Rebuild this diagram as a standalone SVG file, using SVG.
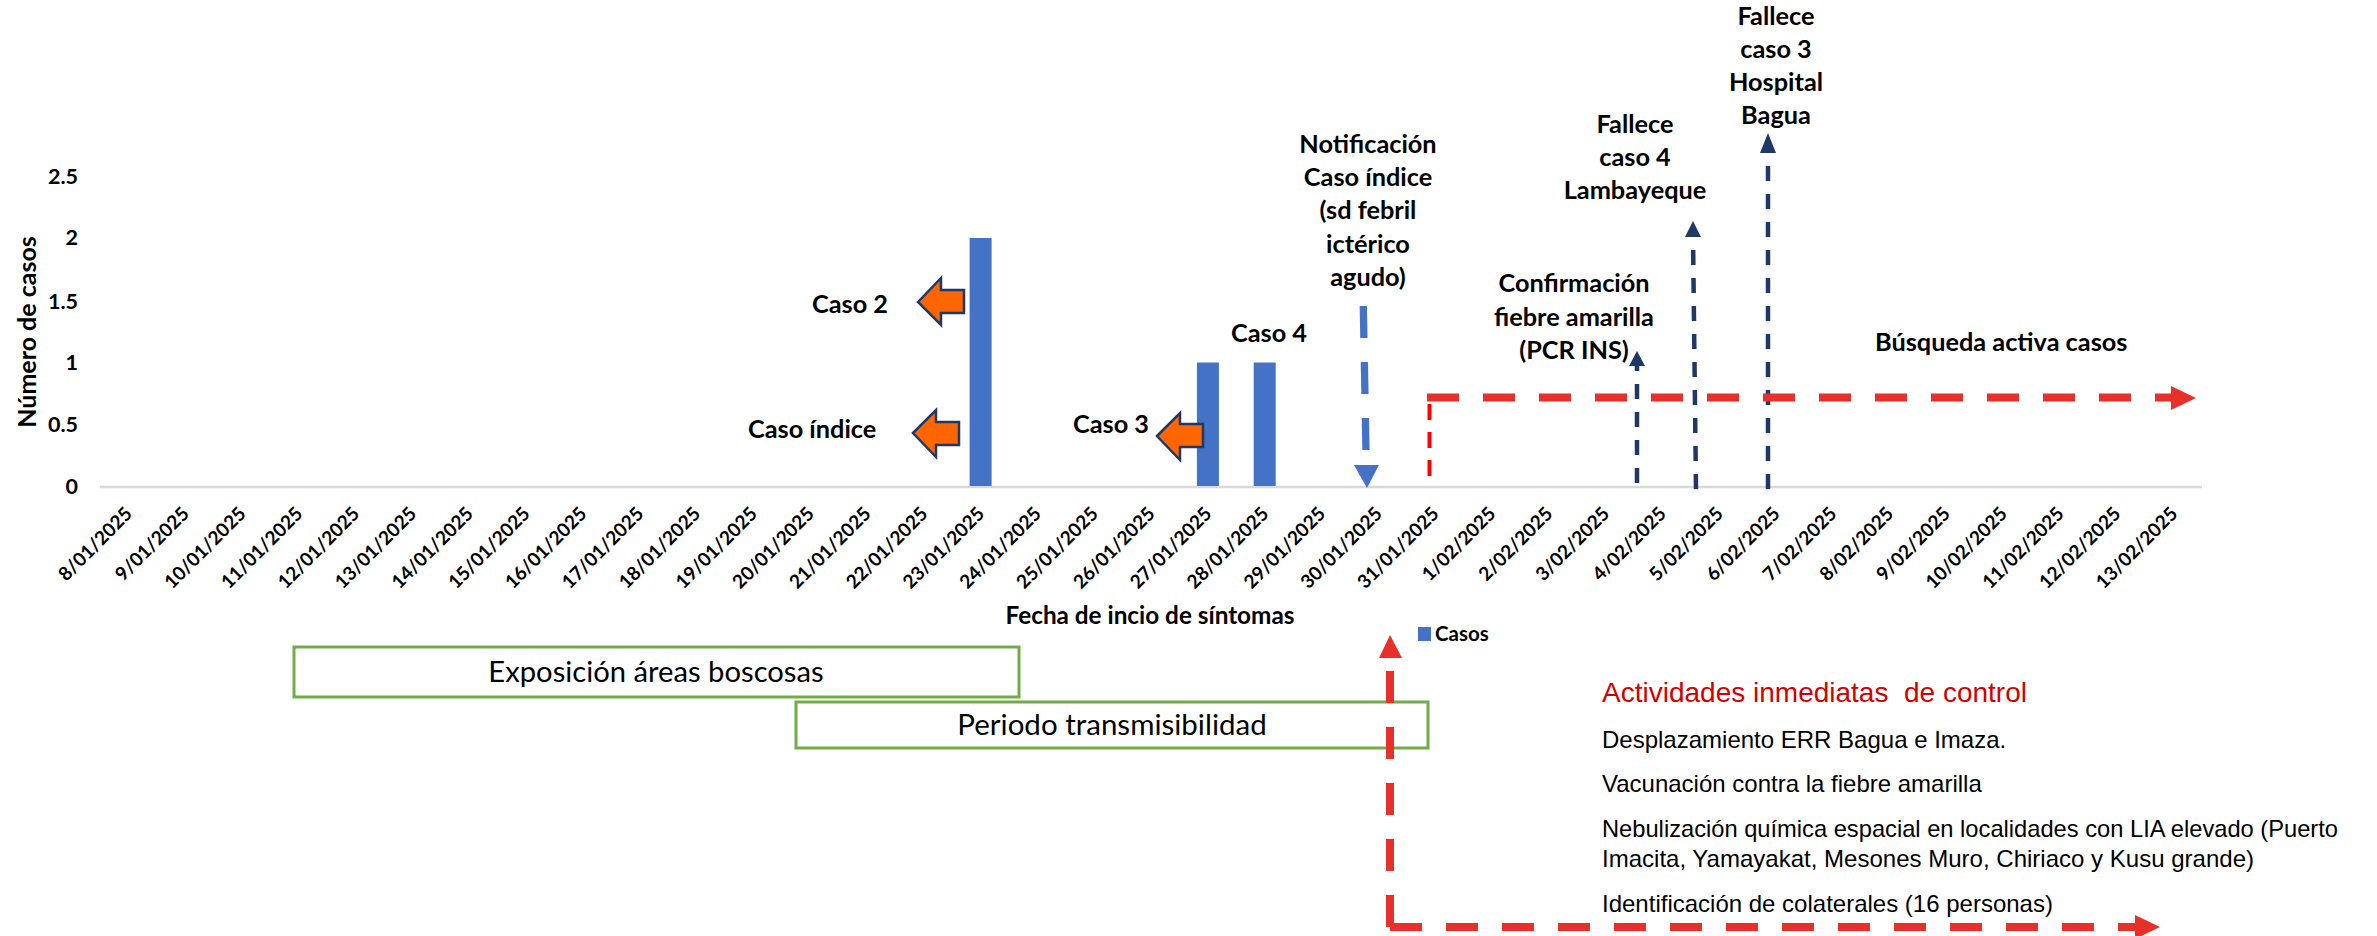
<svg xmlns="http://www.w3.org/2000/svg" width="2377" height="936" viewBox="0 0 2377 936">
<style>
  .cb { font-family: Lato, Carlito, "Liberation Sans", sans-serif; font-weight: bold; fill: #000; }
  .cr { font-family: Lato, Carlito, "Liberation Sans", sans-serif; font-weight: normal; fill: #000; }
  .ar { font-family: "Liberation Sans", Arial, sans-serif; fill: #000; }
  .tick { font-size: 21.5px; text-anchor: end; }
  .date { font-size: 19px; text-anchor: end; }
  .ann { font-size: 25.3px; }
  .mid { text-anchor: middle; }
  .bar { fill: #4472c4; }
  .oarrow { fill: #ff6600; stroke: #203864; stroke-width: 2.5; stroke-linejoin: miter; }
  .navy { stroke: #1f3864; stroke-width: 4.5; stroke-dasharray: 15 13; fill: none; }
  .gbox { fill: #fff; stroke: #70ad47; stroke-width: 3; }
  .redthick { stroke: #e8302a; stroke-width: 8; stroke-dasharray: 32 24; fill: none; }
  .act { font-size: 24px; }
</style>

<g id="chart-axes">
  <line x1="100" y1="487" x2="2202" y2="487" stroke="#d9d9d9" stroke-width="2.5"/>
  <text class="cb tick" x="78" y="184">2.5</text>
  <text class="cb tick" x="78" y="245">2</text>
  <text class="cb tick" x="78" y="309">1.5</text>
  <text class="cb tick" x="78" y="370">1</text>
  <text class="cb tick" x="78" y="432">0.5</text>
  <text class="cb tick" x="78" y="494">0</text>
  <text class="cb mid" font-size="25" transform="translate(36,332) rotate(-90)">Número de casos</text>
  <text class="cb mid" font-size="24.3" x="1150" y="624">Fecha de incio de síntomas</text>
</g>

<g id="x-labels">
  <text class="cb date" transform="translate(133.4,515) rotate(-45)">8/01/2025</text>
  <text class="cb date" transform="translate(190.2,515) rotate(-45)">9/01/2025</text>
  <text class="cb date" transform="translate(247.0,515) rotate(-45)">10/01/2025</text>
  <text class="cb date" transform="translate(303.8,515) rotate(-45)">11/01/2025</text>
  <text class="cb date" transform="translate(360.6,515) rotate(-45)">12/01/2025</text>
  <text class="cb date" transform="translate(417.5,515) rotate(-45)">13/01/2025</text>
  <text class="cb date" transform="translate(474.3,515) rotate(-45)">14/01/2025</text>
  <text class="cb date" transform="translate(531.1,515) rotate(-45)">15/01/2025</text>
  <text class="cb date" transform="translate(587.9,515) rotate(-45)">16/01/2025</text>
  <text class="cb date" transform="translate(644.7,515) rotate(-45)">17/01/2025</text>
  <text class="cb date" transform="translate(701.5,515) rotate(-45)">18/01/2025</text>
  <text class="cb date" transform="translate(758.3,515) rotate(-45)">19/01/2025</text>
  <text class="cb date" transform="translate(815.2,515) rotate(-45)">20/01/2025</text>
  <text class="cb date" transform="translate(872.0,515) rotate(-45)">21/01/2025</text>
  <text class="cb date" transform="translate(928.8,515) rotate(-45)">22/01/2025</text>
  <text class="cb date" transform="translate(985.6,515) rotate(-45)">23/01/2025</text>
  <text class="cb date" transform="translate(1042.4,515) rotate(-45)">24/01/2025</text>
  <text class="cb date" transform="translate(1099.2,515) rotate(-45)">25/01/2025</text>
  <text class="cb date" transform="translate(1156.0,515) rotate(-45)">26/01/2025</text>
  <text class="cb date" transform="translate(1212.9,515) rotate(-45)">27/01/2025</text>
  <text class="cb date" transform="translate(1269.7,515) rotate(-45)">28/01/2025</text>
  <text class="cb date" transform="translate(1326.5,515) rotate(-45)">29/01/2025</text>
  <text class="cb date" transform="translate(1383.3,515) rotate(-45)">30/01/2025</text>
  <text class="cb date" transform="translate(1440.1,515) rotate(-45)">31/01/2025</text>
  <text class="cb date" transform="translate(1496.9,515) rotate(-45)">1/02/2025</text>
  <text class="cb date" transform="translate(1553.7,515) rotate(-45)">2/02/2025</text>
  <text class="cb date" transform="translate(1610.6,515) rotate(-45)">3/02/2025</text>
  <text class="cb date" transform="translate(1667.4,515) rotate(-45)">4/02/2025</text>
  <text class="cb date" transform="translate(1724.2,515) rotate(-45)">5/02/2025</text>
  <text class="cb date" transform="translate(1781.0,515) rotate(-45)">6/02/2025</text>
  <text class="cb date" transform="translate(1837.8,515) rotate(-45)">7/02/2025</text>
  <text class="cb date" transform="translate(1894.6,515) rotate(-45)">8/02/2025</text>
  <text class="cb date" transform="translate(1951.4,515) rotate(-45)">9/02/2025</text>
  <text class="cb date" transform="translate(2008.3,515) rotate(-45)">10/02/2025</text>
  <text class="cb date" transform="translate(2065.1,515) rotate(-45)">11/02/2025</text>
  <text class="cb date" transform="translate(2121.9,515) rotate(-45)">12/02/2025</text>
  <text class="cb date" transform="translate(2178.7,515) rotate(-45)">13/02/2025</text>
</g>

<g id="bars">
  <rect class="bar" x="969.6" y="238" width="22" height="248"/>
  <rect class="bar" x="1196.9" y="362.5" width="22" height="123.5"/>
  <rect class="bar" x="1253.7" y="362.5" width="22" height="123.5"/>
</g>

<g id="legend">
  <rect class="bar" x="1418" y="627" width="13" height="14"/>
  <text class="cb" font-size="20.5" x="1435" y="641">Casos</text>
</g>

<g id="caso-2">
  <polygon class="oarrow" points="918,302 941,278 941,290 964,290 964,313 941,313 941,325"/>
  <text class="cb ann" x="812" y="313">Caso 2</text>
</g>
<g id="caso-indice">
  <polygon class="oarrow" points="913,433 936,410 936,422 959,422 959,445 936,445 936,457"/>
  <text class="cb ann" x="748" y="438">Caso índice</text>
</g>
<g id="caso-3">
  <polygon class="oarrow" points="1157,436 1180,413 1180,424 1203,424 1203,447 1180,447 1180,460"/>
  <text class="cb ann" x="1073" y="433">Caso 3</text>
</g>
<g id="caso-4">
  <text class="cb ann" x="1231" y="342">Caso 4</text>
</g>

<g id="notificacion">
  <text class="cb ann mid" x="1368" y="153">Notificación</text>
  <text class="cb ann mid" x="1368" y="186">Caso índice</text>
  <text class="cb ann mid" x="1368" y="219">(sd febril</text>
  <text class="cb ann mid" x="1368" y="253">ictérico</text>
  <text class="cb ann mid" x="1368" y="286">agudo)</text>
</g>

<g id="confirmacion">
  <text class="cb ann mid" x="1574" y="292">Confirmación</text>
  <text class="cb ann mid" x="1574" y="326">fiebre amarilla</text>
  <text class="cb ann mid" x="1574" y="359">(PCR INS)</text>
</g>

<g id="fallece-caso-4">
  <text class="cb ann mid" x="1635" y="133">Fallece</text>
  <text class="cb ann mid" x="1635" y="166">caso 4</text>
  <text class="cb ann mid" x="1635" y="199">Lambayeque</text>
</g>

<g id="fallece-caso-3">
  <text class="cb ann mid" x="1776" y="25">Fallece</text>
  <text class="cb ann mid" x="1776" y="58">caso 3</text>
  <text class="cb ann mid" x="1776" y="91">Hospital</text>
  <text class="cb ann mid" x="1776" y="124">Bagua</text>
</g>

<g id="busqueda">
  <text class="cb ann" x="1875" y="351">Búsqueda activa casos</text>
</g>

<g id="exposicion">
  <rect class="gbox" x="294" y="647" width="725" height="50"/>
  <text class="cr mid" font-size="29.2" x="656" y="682">Exposición áreas boscosas</text>
</g>
<g id="transmisibilidad">
  <rect class="gbox" x="796" y="702" width="632" height="46"/>
  <text class="cr mid" font-size="29.5" x="1112" y="735">Periodo transmisibilidad</text>
</g>

<g id="actividades">
  <text class="ar" font-size="28" style="fill:#d40000" x="1602" y="702" textLength="425" lengthAdjust="spacingAndGlyphs">Actividades inmediatas&#160; de control</text>
  <text class="ar act" x="1602" y="748">Desplazamiento ERR Bagua e Imaza.</text>
  <text class="ar act" x="1602" y="792">Vacunación contra la fiebre amarilla</text>
  <text class="ar act" x="1602" y="837" textLength="736" lengthAdjust="spacingAndGlyphs">Nebulización química espacial en localidades con LIA elevado (Puerto</text>
  <text class="ar act" x="1602" y="867" textLength="652" lengthAdjust="spacingAndGlyphs">Imacita, Yamayakat, Mesones Muro, Chiriaco y Kusu grande)</text>
  <text class="ar act" x="1602" y="912">Identificación de colaterales (16 personas)</text>
</g>

<g id="connectors">
  <line x1="1363.3" y1="306" x2="1366" y2="452" stroke="#4472c4" stroke-width="7.3" stroke-dasharray="32 24"/>
  <polygon points="1354,465 1379,465 1367,488" fill="#4472c4"/>

  <line class="navy" x1="1637" y1="483" x2="1637" y2="365"/>
  <polygon points="1629,366 1645,366 1637,351" fill="#1f3864"/>

  <line class="navy" x1="1696" y1="489" x2="1693" y2="236"/>
  <polygon points="1685,237 1701,237 1693,221" fill="#1f3864"/>

  <line class="navy" x1="1768" y1="489" x2="1768" y2="152"/>
  <polygon points="1760,153 1776,153 1768,133" fill="#1f3864"/>

  <line x1="1429.5" y1="476" x2="1429.5" y2="402" stroke="#ff0000" stroke-width="4" stroke-dasharray="16 12"/>
  <line class="redthick" x1="1427" y1="397.5" x2="2173" y2="397.5"/>
  <polygon points="2171,386 2196,398 2171,410" fill="#e8302a"/>

  <line class="redthick" x1="1390" y1="927" x2="1390" y2="657"/>
  <polygon points="1379,658 1402,658 1390,635" fill="#e8302a"/>
  <line class="redthick" x1="1390" y1="927" x2="2136" y2="927"/>
  <polygon points="2135,915 2160,927 2135,939" fill="#e8302a"/>
</g>
</svg>
